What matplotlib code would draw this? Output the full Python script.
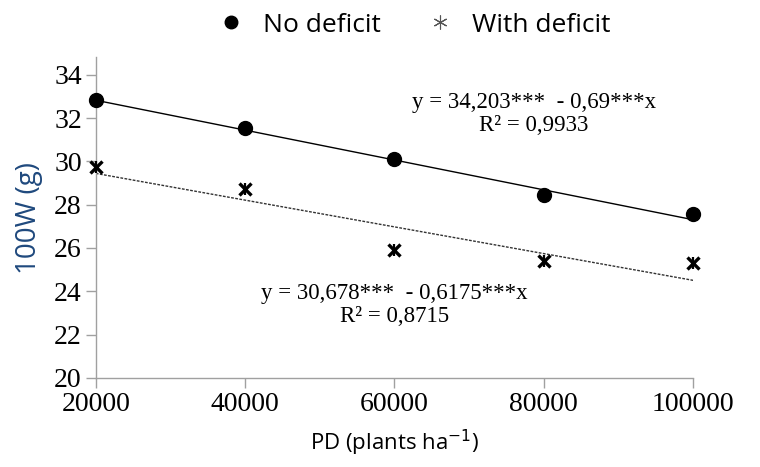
import numpy as np
import matplotlib.pyplot as plt

# data
pd_vals = [20000, 40000, 60000, 80000, 100000]
no_deficit = [32.85, 31.55, 30.1, 28.45, 27.55]
with_deficit = [29.75, 28.7, 25.9, 25.4, 25.3]

# trendline coefficients (x in units of 10^4 plants)
fit_no = (34.203, -0.69)
fit_with = (30.678, -0.6175)

serif = 'Liberation Serif'
sans = 'Open Sans'

fig = plt.figure(figsize=(7.6, 4.67), dpi=100)
ax = fig.add_axes([0.126, 0.191, 0.786, 0.686])

x = np.array(pd_vals)
ax.plot(x, fit_no[0] + fit_no[1] * x / 10000, color='black', lw=1.0, zorder=2)
ax.plot(x, fit_with[0] + fit_with[1] * x / 10000, color='#333333', lw=1.0,
        ls=(0, (2, 1)), zorder=2)

ax.plot(pd_vals, no_deficit, 'o', color='black', ms=10, label='No deficit',
        zorder=3, clip_on=False)
# asterisk-like marker: an x plus a short vertical bar
ax.plot(pd_vals, with_deficit, ls='none', marker='x', color='black', ms=8,
        mew=2.4, zorder=3, clip_on=False)
ax.plot(pd_vals, with_deficit, ls='none', marker='|', color='black', ms=9,
        mew=1.6, zorder=3, clip_on=False)

ax.set_xlim(20000, 100000)
ax.set_ylim(20, 34.8)
ax.set_xticks(pd_vals)
ax.set_yticks(range(20, 35, 2))

for s in ['top', 'right']:
    ax.spines[s].set_visible(False)
for s in ['left', 'bottom']:
    ax.spines[s].set_color('#a0a0a0')
    ax.spines[s].set_linewidth(1.0)
ax.tick_params(color='#a0a0a0', length=7, width=1.0, labelsize=20, pad=3)
for lab in ax.get_xticklabels() + ax.get_yticklabels():
    lab.set_fontfamily(serif)

ax.set_xlabel('PD (plants ha$^{-1}$)', fontsize=16, fontfamily=sans, labelpad=8)
ax.set_ylabel('100W (g)', fontsize=20, fontfamily=sans, color='#1f497d', labelpad=8)

ax.text(78700, 32.2, 'y = 34,203***  - 0,69***x\nR² = 0,9933',
        fontsize=16.5, fontfamily=serif, ha='center', va='center', linespacing=1.1)
ax.text(60000, 23.35, 'y = 30,678***  - 0,6175***x\nR² = 0,8715',
        fontsize=16.5, fontfamily=serif, ha='center', va='center', linespacing=1.1)

leg = fig.legend(handles=[
    plt.Line2D([], [], ls='none', marker='o', color='black', ms=9),
    plt.Line2D([], [], ls='none', marker=(6, 2, 0), color='#555555', ms=10, mew=0.8)],
    labels=['No deficit', 'With deficit'], loc='upper center',
    bbox_to_anchor=(0.536, 1.024), ncol=2, frameon=False, handletextpad=0.2,
    columnspacing=1.25, prop={'family': sans, 'size': 19})

fig.savefig('out.png', dpi=100)
